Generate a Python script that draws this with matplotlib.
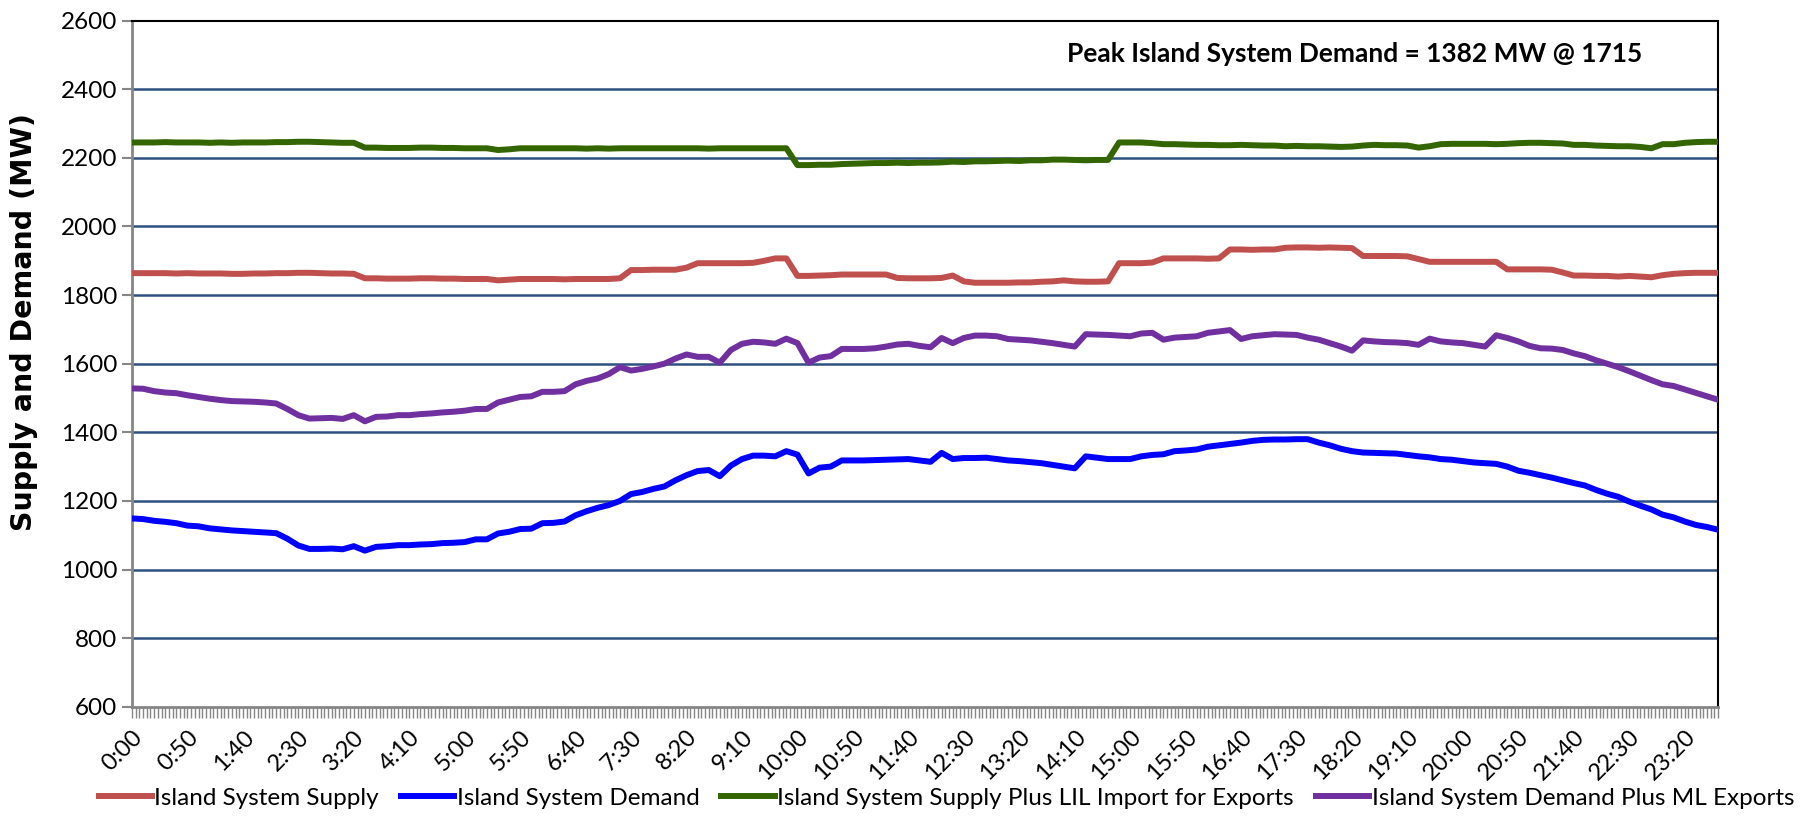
import numpy as np
import matplotlib.pyplot as plt
from matplotlib.ticker import MultipleLocator, FixedLocator

plt.rcParams['font.family'] = ['Lato', 'DejaVu Sans']

# 10-minute readings, 0:00 .. 23:50
minutes = np.arange(0, 1440, 10)

supply = [
    1864, 1864, 1864, 1864, 1863, 1864,
    1863, 1863, 1863, 1862, 1862, 1863,
    1863, 1864, 1864, 1865, 1865, 1864,
    1863, 1863, 1862, 1849, 1849, 1848,
    1848, 1848, 1849, 1849, 1848, 1848,
    1847, 1847, 1847, 1843, 1845, 1847,
    1847, 1847, 1847, 1846, 1847, 1847,
    1847, 1847, 1849, 1873, 1873, 1874,
    1874, 1874, 1880, 1893, 1893, 1893,
    1893, 1893, 1894, 1900, 1907, 1907,
    1856, 1856, 1857, 1858, 1860, 1860,
    1860, 1860, 1860, 1850, 1849, 1849,
    1849, 1850, 1857, 1840, 1836, 1836,
    1836, 1836, 1837, 1837, 1839, 1840,
    1843, 1840, 1839, 1839, 1840, 1893,
    1893, 1893, 1895, 1907, 1907, 1907,
    1907, 1906, 1907, 1933, 1933, 1932,
    1933, 1933, 1938, 1939, 1939, 1938,
    1939, 1938, 1937, 1914, 1914, 1914,
    1914, 1913, 1905, 1897, 1897, 1897,
    1897, 1897, 1897, 1897, 1875, 1875,
    1875, 1875, 1874, 1866, 1857, 1857,
    1856, 1856, 1854, 1856, 1854, 1852,
    1858, 1862, 1864, 1865, 1865, 1865,
]

demand = [
    1149, 1147, 1142, 1139, 1135, 1128,
    1126, 1120, 1117, 1114, 1112, 1110,
    1108, 1106, 1090, 1070, 1060, 1060,
    1061, 1059, 1068, 1055, 1066, 1068,
    1071, 1071, 1073, 1074, 1077, 1078,
    1080, 1088, 1088, 1105, 1110, 1118,
    1119, 1135, 1136, 1140, 1158, 1170,
    1180, 1188, 1200, 1220, 1226, 1235,
    1242, 1260, 1275, 1287, 1290, 1272,
    1303, 1322, 1332, 1332, 1330, 1345,
    1335, 1280, 1297, 1300, 1318, 1318,
    1318, 1319, 1320, 1321, 1322, 1318,
    1314, 1340, 1322, 1325, 1325, 1326,
    1322, 1318, 1316, 1313, 1310, 1305,
    1300, 1295, 1330, 1326, 1322, 1322,
    1322, 1330, 1334, 1336, 1345, 1347,
    1350, 1358, 1362, 1366, 1370, 1375,
    1378, 1379, 1379, 1380, 1380, 1370,
    1362, 1352, 1345, 1341, 1340, 1339,
    1338, 1334, 1330, 1327, 1322, 1320,
    1316, 1312, 1310, 1308, 1300, 1288,
    1282, 1275, 1268, 1260, 1252, 1245,
    1232, 1221, 1212, 1198, 1186, 1175,
    1160, 1152, 1140, 1130, 1124, 1116,
]

supply_lil = [
    2245, 2245, 2245, 2246, 2245, 2245,
    2245, 2244, 2245, 2244, 2245, 2245,
    2245, 2246, 2246, 2247, 2247, 2246,
    2245, 2244, 2244, 2230, 2230, 2229,
    2229, 2229, 2230, 2230, 2229, 2229,
    2228, 2228, 2228, 2223, 2225, 2228,
    2228, 2228, 2228, 2228, 2228, 2227,
    2228, 2227, 2228, 2228, 2228, 2228,
    2228, 2228, 2228, 2228, 2227, 2228,
    2228, 2228, 2228, 2228, 2228, 2228,
    2179, 2179, 2180, 2180, 2182, 2183,
    2184, 2185, 2185, 2186, 2185, 2186,
    2186, 2187, 2189, 2188, 2190, 2190,
    2191, 2192, 2191, 2193, 2193, 2195,
    2195, 2194, 2193, 2194, 2194, 2245,
    2245, 2245, 2243, 2240, 2240, 2239,
    2238, 2238, 2237, 2237, 2238, 2237,
    2236, 2236, 2234, 2235, 2234, 2234,
    2233, 2232, 2233, 2236, 2238, 2237,
    2237, 2236, 2230, 2234, 2240, 2241,
    2241, 2241, 2241, 2240, 2241, 2243,
    2244, 2244, 2243, 2242, 2238, 2238,
    2236, 2235, 2234, 2234, 2232, 2228,
    2240, 2240, 2244, 2246, 2247, 2247,
]

demand_ml = [
    1528, 1527, 1520, 1516, 1514, 1508,
    1503, 1498, 1494, 1491, 1490, 1489,
    1487, 1484, 1468, 1450, 1440, 1441,
    1442, 1439, 1450, 1432, 1445, 1446,
    1450, 1450, 1453, 1455, 1458, 1460,
    1463, 1468, 1468, 1487, 1495, 1503,
    1505, 1518, 1518, 1520, 1540, 1550,
    1557, 1570, 1590, 1580, 1585, 1592,
    1600, 1615, 1627, 1620, 1620, 1603,
    1640, 1658, 1664, 1662, 1658, 1673,
    1660, 1603, 1618, 1622, 1643, 1643,
    1643, 1645, 1650, 1656, 1658, 1652,
    1648, 1675, 1660, 1675, 1682, 1682,
    1680, 1672, 1670, 1668, 1664, 1660,
    1655, 1650, 1686, 1685, 1684, 1682,
    1680, 1688, 1690, 1670, 1676, 1678,
    1680, 1690, 1694, 1698, 1672, 1680,
    1683, 1686, 1685, 1684, 1676, 1670,
    1660, 1650, 1638, 1668, 1665, 1663,
    1662, 1660, 1655, 1673, 1665, 1662,
    1660, 1655, 1650, 1683, 1675, 1665,
    1652, 1645, 1644, 1640, 1630, 1622,
    1610, 1600, 1590, 1578, 1565, 1552,
    1540, 1535, 1525, 1515, 1505, 1495,
]

series = [
    ('Island System Supply', supply, '#C0504D'),
    ('Island System Demand', demand, '#0000FF'),
    ('Island System Supply Plus LIL Import for Exports', supply_lil, '#336600'),
    ('Island System Demand Plus ML Exports', demand_ml, '#7030A0'),
]

label_minutes = np.arange(0, 1440, 50)
tick_labels = [f'{m // 60}:{m % 60:02d}' for m in label_minutes]

fig = plt.figure(figsize=(18.13, 8.21), dpi=100)
ax = fig.add_axes([0.0728, 0.1392, 0.8748, 0.8356])

for y in range(800, 2600, 200):
    ax.axhline(y, color='#2F5182', linewidth=1.8, zorder=1)

for name, vals, color in series:
    ax.plot(minutes, vals, color=color, linewidth=4.3, label=name,
            solid_joinstyle='round', zorder=3)

ax.set_xlim(0, 1430)
ax.set_ylim(600, 2600)
ax.yaxis.set_major_locator(MultipleLocator(200))
ax.xaxis.set_major_locator(FixedLocator(label_minutes))
ax.xaxis.set_minor_locator(MultipleLocator(10 / 3))
ax.set_xticklabels(tick_labels, rotation=45, ha='right', va='top',
                   rotation_mode='anchor', fontsize=17)
ax.tick_params(axis='y', labelsize=17.5, length=7, width=1.5, color='#868686')
ax.tick_params(axis='x', which='both', length=8, width=1, color='#868686',
               direction='out', pad=6)

for side in ['left', 'bottom']:
    ax.spines[side].set_color('#868686')
    ax.spines[side].set_linewidth(2)
for side in ['top', 'right']:
    ax.spines[side].set_color('black')
    ax.spines[side].set_linewidth(1.5)

ax.set_ylabel('Supply and Demand (MW)', fontsize=20.5, fontweight='bold',
              family='DejaVu Sans')
ax.yaxis.set_label_coords(-0.059, 0.5615)

ax.text(0.952, 0.951, 'Peak Island System Demand = 1382 MW @ 1715',
        transform=ax.transAxes, ha='right', va='center',
        fontsize=19, fontweight='bold')

fig.legend(loc='lower center', bbox_to_anchor=(0.522, -0.012), ncol=4,
           frameon=False, fontsize=17.5, handlelength=2.2, handletextpad=0.1,
           columnspacing=0.9)

fig.savefig('out.png', dpi=100)
